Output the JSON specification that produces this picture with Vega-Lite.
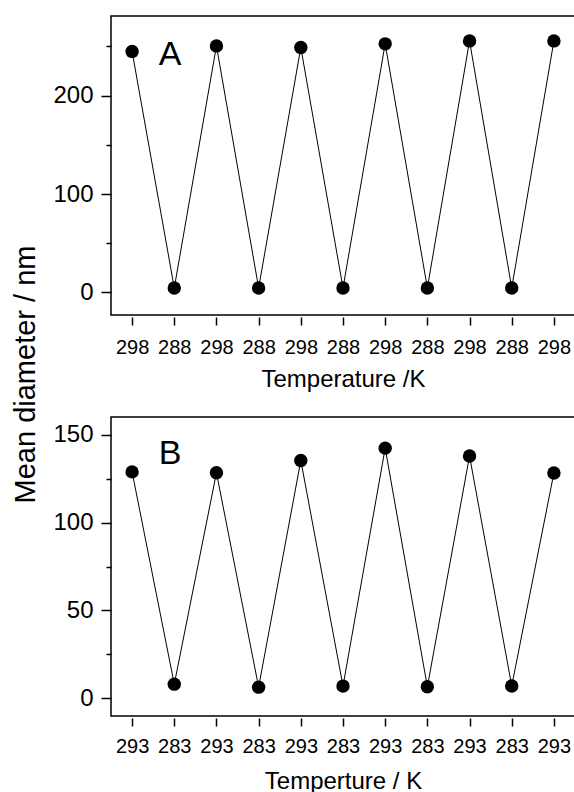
{
  "$schema": "https://vega.github.io/schema/vega-lite/v6.json",
  "padding": {"left": 10, "top": 15, "right": 1, "bottom": 2},
  "bounds": "flush",
  "spacing": 102,
  "config": {
    "font": "Liberation Sans",
    "view": {"stroke": "black", "strokeWidth": 1.5},
    "axis": {
      "grid": false,
      "labelColor": "black",
      "titleColor": "black",
      "tickColor": "black",
      "domainColor": "black",
      "labelFont": "Liberation Sans",
      "titleFont": "Liberation Sans",
      "titleFontWeight": "normal",
      "tickWidth": 1.5,
      "domainWidth": 1.5
    }
  },
  "datasets": {
    "a": [
      {"step": 0, "temp": "298", "d": 245},
      {"step": 1, "temp": "288", "d": 4.5},
      {"step": 2, "temp": "298", "d": 250.6},
      {"step": 3, "temp": "288", "d": 4.5},
      {"step": 4, "temp": "298", "d": 249},
      {"step": 5, "temp": "288", "d": 4.5},
      {"step": 6, "temp": "298", "d": 252.7},
      {"step": 7, "temp": "288", "d": 4.5},
      {"step": 8, "temp": "298", "d": 255.7},
      {"step": 9, "temp": "288", "d": 4.5},
      {"step": 10, "temp": "298", "d": 255.7}
    ],
    "b": [
      {"step": 0, "temp": "293", "d": 128.8},
      {"step": 1, "temp": "283", "d": 8.1},
      {"step": 2, "temp": "293", "d": 128.3},
      {"step": 3, "temp": "283", "d": 6.4},
      {"step": 4, "temp": "293", "d": 135.3},
      {"step": 5, "temp": "283", "d": 7.0},
      {"step": 6, "temp": "293", "d": 142.3},
      {"step": 7, "temp": "283", "d": 6.6},
      {"step": 8, "temp": "293", "d": 137.8},
      {"step": 9, "temp": "283", "d": 7.1},
      {"step": 10, "temp": "293", "d": 128.2}
    ]
  },
  "vconcat": [
    {
      "width": 464,
      "height": 299,
      "layer": [
        {
          "data": {"name": "a"},
          "mark": {"type": "line", "color": "black", "strokeWidth": 1},
          "encoding": {
            "x": {"field": "step", "type": "quantitative", "scale": {"domain": [-0.5, 10.5], "nice": false},
              "axis": {"values": [0,1,2,3,4,5,6,7,8,9,10], "labelExpr": "datum.value % 2 == 0 ? '298' : '288'", "domain": false, "offset": 2, "tickSize": 8, "labelFontSize": 20, "labelBaseline": "alphabetic", "labelPadding": 28, "title": "Temperature /K", "titleFontSize": 24, "titleBaseline": "alphabetic", "titleY": 69}},
            "y": {"field": "d", "type": "quantitative", "scale": {"domain": [-23, 281], "nice": false, "zero": false},
              "axis": {"values": [0, 50, 100, 150, 200, 250], "labelExpr": "datum.value % 100 == 0 ? datum.label : ''", "domain": false, "tickSize": {"condition": {"test": "datum.value % 100 == 0", "value": 10}, "value": 5}, "labelFontSize": 24, "labelPadding": 8, "title": "Mean diameter / nm", "titleFontSize": 29, "titleBaseline": "alphabetic", "titleX": -77, "titleY": 358}}
          }
        },
        {
          "data": {"name": "a"},
          "mark": {"type": "point", "filled": true, "color": "black", "opacity": 1, "size": 180},
          "encoding": {
            "x": {"field": "step", "type": "quantitative"},
            "y": {"field": "d", "type": "quantitative"}
          }
        },
        {
          "data": {"values": [{"label": "A", "px": 0.9, "py": 231}]},
          "mark": {"type": "text", "fontSize": 34, "align": "center", "baseline": "alphabetic", "color": "black"},
          "encoding": {
            "x": {"field": "px", "type": "quantitative"},
            "y": {"field": "py", "type": "quantitative"},
            "text": {"field": "label"}
          }
        }
      ]
    },
    {
      "width": 464,
      "height": 299,
      "layer": [
        {
          "data": {"name": "b"},
          "mark": {"type": "line", "color": "black", "strokeWidth": 1},
          "encoding": {
            "x": {"field": "step", "type": "quantitative", "scale": {"domain": [-0.5, 10.5], "nice": false},
              "axis": {"values": [0,1,2,3,4,5,6,7,8,9,10], "labelExpr": "datum.value % 2 == 0 ? '293' : '283'", "domain": false, "offset": 2, "tickSize": 8, "labelFontSize": 20, "labelBaseline": "alphabetic", "labelPadding": 26, "title": "Temperture / K", "titleFontSize": 24, "titleBaseline": "alphabetic", "titleY": 70}},
            "y": {"field": "d", "type": "quantitative", "scale": {"domain": [-10, 160], "nice": false, "zero": false},
              "axis": {"values": [0, 25, 50, 75, 100, 125, 150], "labelExpr": "datum.value % 50 == 0 ? datum.label : ''", "domain": false, "tickSize": {"condition": {"test": "datum.value % 50 == 0", "value": 10}, "value": 5}, "labelFontSize": 24, "labelPadding": 8, "title": null}}
          }
        },
        {
          "data": {"name": "b"},
          "mark": {"type": "point", "filled": true, "color": "black", "opacity": 1, "size": 180},
          "encoding": {
            "x": {"field": "step", "type": "quantitative"},
            "y": {"field": "d", "type": "quantitative"}
          }
        },
        {
          "data": {"values": [{"label": "B", "px": 0.9, "py": 133.4}]},
          "mark": {"type": "text", "fontSize": 34, "align": "center", "baseline": "alphabetic", "color": "black"},
          "encoding": {
            "x": {"field": "px", "type": "quantitative"},
            "y": {"field": "py", "type": "quantitative"},
            "text": {"field": "label"}
          }
        }
      ]
    }
  ]
}
